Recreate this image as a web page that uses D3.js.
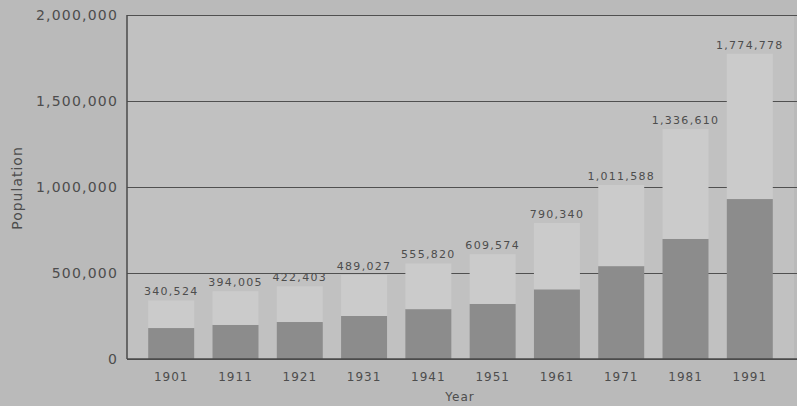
<!DOCTYPE html>
<html>
<head>
<meta charset="utf-8">
<script src="https://cdn.jsdelivr.net/npm/d3@7"></script>
<style>
  body { margin: 0; background: #bababa; }
  svg { display: block; }
  text { font-family: "DejaVu Sans", sans-serif; fill: #4d4d4d; }
</style>
</head>
<body>
<svg></svg>
<script>
const years = ["1901", "1911", "1921", "1931", "1941", "1951", "1961", "1971", "1981", "1991"];
const totals = [340524, 394005, 422403, 489027, 555820, 609574, 790340, 1011588, 1336610, 1774778];
const lower = [180000, 198000, 215000, 250000, 290000, 320000, 405000, 540000, 698000, 930000];
const yTicks = [0, 500000, 1000000, 1500000, 2000000];

const width = 797;
const height = 406;
const margin = { top: 15, right: 3, bottom: 47, left: 127 };

const svg = d3.select("svg").attr("width", width).attr("height", height);

const data = years.map((y, i) => ({ year: y, total: totals[i], low: lower[i] }));

const xScale = d3
  .scaleBand()
  .domain(years)
  .range([margin.left, 794])
  .paddingInner(0.285)
  .paddingOuter(0.33);

const yScale = d3
  .scaleLinear()
  .domain([0, 2000000])
  .range([height - margin.bottom, margin.top]);

// plot background
svg.append("rect")
  .attr("x", margin.left)
  .attr("y", margin.top)
  .attr("width", width - margin.right - margin.left)
  .attr("height", yScale(0) - margin.top)
  .attr("fill", "#c1c1c1");

// grid + y labels
const yAxis = d3
  .axisLeft(yScale)
  .tickValues(yTicks)
  .tickFormat(d3.format(","))
  .tickSize(-(width - margin.left))
  .tickPadding(9);

const yAxisG = svg.append("g")
  .attr("transform", `translate(${margin.left},0)`)
  .call(yAxis);
yAxisG.select(".domain").remove();
yAxisG.selectAll(".tick line").attr("stroke", "#505050").attr("stroke-width", 1);
yAxisG.selectAll(".tick text")
  .attr("font-size", 14)
  .attr("letter-spacing", "1.2px")
  .attr("fill", "#555");

// bars, dark part first then light part on top of it
svg.selectAll("rect.low")
  .data(data)
  .enter()
  .append("rect")
  .attr("class", "low")
  .attr("x", (d) => xScale(d.year))
  .attr("width", xScale.bandwidth())
  .attr("y", (d) => yScale(d.low))
  .attr("height", (d) => yScale(0) - yScale(d.low))
  .attr("fill", "#8c8c8c");

svg.selectAll("rect.up")
  .data(data)
  .enter()
  .append("rect")
  .attr("class", "up")
  .attr("x", (d) => xScale(d.year))
  .attr("width", xScale.bandwidth())
  .attr("y", (d) => yScale(d.total))
  .attr("height", (d) => yScale(d.low) - yScale(d.total))
  .attr("fill", "#cbcbcb");

// value labels
svg.selectAll("text.val")
  .data(data)
  .enter()
  .append("text")
  .attr("class", "val")
  .attr("x", (d) => xScale(d.year) + xScale.bandwidth() / 2)
  .attr("y", (d) => yScale(d.total) - 5)
  .attr("text-anchor", "middle")
  .attr("font-size", 11)
  .attr("letter-spacing", "1.3px")
  .attr("fill", "#444")
  .text((d) => d3.format(",")(d.total));

// y axis line and baseline
svg.append("line")
  .attr("x1", margin.left).attr("x2", margin.left)
  .attr("y1", margin.top).attr("y2", yScale(0))
  .attr("stroke", "#4a4a4a").attr("stroke-width", 1.5);

const xAxisG = svg.append("g")
  .attr("transform", `translate(0,${yScale(0)})`)
  .call(d3.axisBottom(xScale).tickSize(0).tickPadding(13));
xAxisG.select(".domain").remove();
xAxisG.selectAll(".tick text")
  .attr("font-size", 12)
  .attr("letter-spacing", "1px")
  .attr("fill", "#555");

svg.append("line")
  .attr("x1", margin.left).attr("x2", width)
  .attr("y1", yScale(0)).attr("y2", yScale(0))
  .attr("stroke", "#4a4a4a").attr("stroke-width", 1.5);

// axis titles
svg.append("text")
  .attr("x", 460)
  .attr("y", 401)
  .attr("text-anchor", "middle")
  .attr("font-size", 12)
  .attr("letter-spacing", "1px")
  .attr("fill", "#666")
  .text("Year");

svg.append("text")
  .attr("transform", "translate(22,188) rotate(-90)")
  .attr("text-anchor", "middle")
  .attr("font-size", 14)
  .attr("letter-spacing", "1px")
  .attr("fill", "#666")
  .text("Population");
</script>
</body>
</html>
